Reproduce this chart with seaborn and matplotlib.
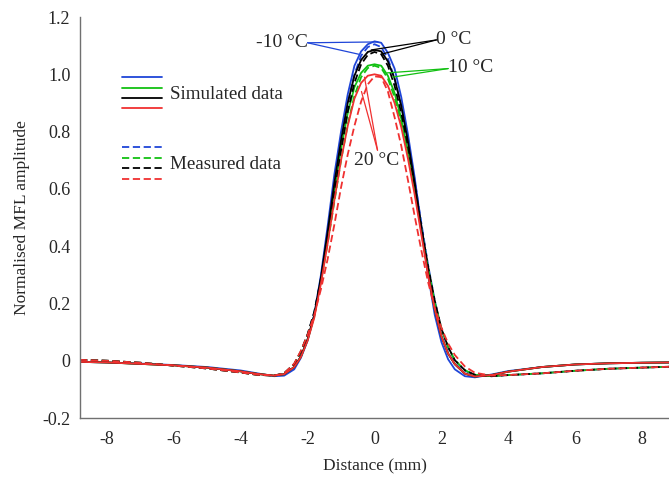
import matplotlib
matplotlib.use("Agg")
import matplotlib.pyplot as plt
import pandas as pd
import seaborn as sns
from matplotlib.legend_handler import HandlerBase
from matplotlib.lines import Line2D

# data
distance = [-8.8, -8, -7, -6, -5, -4, -3.5, -3, -2.7, -2.4, -2.2, -2, -1.8, -1.6, -1.4,
            -1.2, -1, -0.8, -0.6, -0.4, -0.2, 0, 0.2, 0.4, 0.6, 0.8, 1, 1.2, 1.4, 1.6,
            1.8, 2, 2.2, 2.4, 2.7, 3, 3.5, 4, 5, 6, 7, 8, 8.8]

sim_m10 = [-0.004, -0.006, -0.010, -0.015, -0.022, -0.034, -0.044, -0.054, -0.052, -0.030, 0.010,
           0.070, 0.160, 0.300, 0.470, 0.650, 0.800, 0.930, 1.030, 1.080, 1.105, 1.115, 1.110,
           1.075, 1.020, 0.920, 0.790, 0.640, 0.470, 0.300, 0.160, 0.065, 0.005, -0.030, -0.054,
           -0.058, -0.048, -0.036, -0.022, -0.013, -0.009, -0.007, -0.006]
sim_0 = [-0.004, -0.006, -0.011, -0.016, -0.024, -0.037, -0.046, -0.052, -0.047, -0.022, 0.015,
         0.075, 0.160, 0.290, 0.450, 0.620, 0.770, 0.900, 0.995, 1.050, 1.078, 1.085, 1.080,
         1.045, 0.985, 0.890, 0.765, 0.620, 0.460, 0.310, 0.180, 0.085, 0.025, -0.012, -0.045,
         -0.055, -0.050, -0.038, -0.022, -0.013, -0.009, -0.007, -0.006]
sim_10 = [-0.004, -0.006, -0.011, -0.016, -0.024, -0.037, -0.046, -0.052, -0.047, -0.022, 0.014,
          0.072, 0.155, 0.280, 0.430, 0.590, 0.740, 0.865, 0.955, 1.005, 1.030, 1.035, 1.030,
          0.995, 0.935, 0.845, 0.730, 0.595, 0.450, 0.305, 0.180, 0.085, 0.025, -0.012, -0.045,
          -0.055, -0.050, -0.038, -0.022, -0.013, -0.009, -0.007, -0.006]
sim_20 = [-0.004, -0.006, -0.011, -0.016, -0.024, -0.037, -0.046, -0.052, -0.047, -0.022, 0.013,
          0.070, 0.150, 0.270, 0.410, 0.560, 0.700, 0.820, 0.915, 0.970, 0.995, 1.000, 0.995,
          0.960, 0.900, 0.815, 0.705, 0.580, 0.440, 0.300, 0.180, 0.085, 0.025, -0.012, -0.045,
          -0.055, -0.050, -0.038, -0.022, -0.013, -0.009, -0.007, -0.006]

meas_m10 = [0.003, 0.000, -0.007, -0.017, -0.027, -0.041, -0.049, -0.052, -0.044, -0.012, 0.030,
            0.090, 0.170, 0.290, 0.440, 0.600, 0.760, 0.900, 1.000, 1.065, 1.095, 1.105, 1.095,
            1.055, 0.985, 0.890, 0.770, 0.630, 0.480, 0.335, 0.210, 0.110, 0.045, 0.000, -0.035,
            -0.050, -0.054, -0.050, -0.044, -0.035, -0.028, -0.024, -0.021]
meas_0 = [0.003, 0.000, -0.007, -0.017, -0.027, -0.041, -0.049, -0.052, -0.044, -0.012, 0.032,
          0.092, 0.170, 0.285, 0.430, 0.585, 0.735, 0.870, 0.970, 1.035, 1.068, 1.078, 1.070,
          1.030, 0.960, 0.865, 0.750, 0.615, 0.470, 0.330, 0.210, 0.112, 0.048, 0.002, -0.033,
          -0.049, -0.054, -0.050, -0.044, -0.035, -0.028, -0.024, -0.021]
meas_10 = [0.003, 0.000, -0.007, -0.017, -0.027, -0.041, -0.049, -0.052, -0.044, -0.012, 0.032,
           0.090, 0.165, 0.275, 0.410, 0.555, 0.700, 0.825, 0.925, 0.990, 1.022, 1.030, 1.022,
           0.985, 0.920, 0.830, 0.720, 0.595, 0.460, 0.325, 0.205, 0.112, 0.048, 0.002, -0.033,
           -0.049, -0.054, -0.050, -0.044, -0.035, -0.028, -0.024, -0.021]
meas_20 = [0.003, 0.000, -0.007, -0.017, -0.027, -0.041, -0.049, -0.052, -0.044, -0.010, 0.035,
           0.090, 0.160, 0.250, 0.355, 0.475, 0.605, 0.720, 0.820, 0.905, 0.965, 0.993, 0.990,
           0.940, 0.850, 0.750, 0.630, 0.505, 0.385, 0.275, 0.185, 0.115, 0.060, 0.020, -0.020,
           -0.042, -0.052, -0.050, -0.044, -0.035, -0.028, -0.024, -0.021]

temps = ["-10 °C", "10 °C", "0 °C", "20 °C"]  # legend order: blue, green, black, red
colors = ["#1f45d8", "#12c012", "black", "#f03030"]
x_ticks = [-8, -6, -4, -2, 0, 2, 4, 6, 8]
x_ticklabels = ["-8", "-6", "-4", "-2", "0", "2", "4", "6", "8"]
y_ticks = [-0.2, 0, 0.2, 0.4, 0.6, 0.8, 1.0, 1.2]
y_ticklabels = ["-0.2", "0", "0.2", "0.4", "0.6", "0.8", "1.0", "1.2"]

sim = {"-10 °C": sim_m10, "0 °C": sim_0, "10 °C": sim_10, "20 °C": sim_20}
meas = {"-10 °C": meas_m10, "0 °C": meas_0, "10 °C": meas_10, "20 °C": meas_20}

rows = []
for t in temps:
    for xv, yv in zip(distance, meas[t]):
        rows.append({"Distance": xv, "Amp": yv, "Temp": t, "Kind": "Measured"})
    for xv, yv in zip(distance, sim[t]):
        rows.append({"Distance": xv, "Amp": yv, "Temp": t, "Kind": "Simulated"})
df = pd.DataFrame(rows)

sns.set_theme(style="white")
plt.rcParams["font.family"] = ["Liberation Serif", "DejaVu Serif"]
plt.rcParams["axes.unicode_minus"] = False


class StackedLines(HandlerBase):
    # draws a tuple of lines stacked one above the other in one legend row
    def create_artists(self, legend, orig_handle, xdescent, ydescent, width, height, fontsize, trans):
        n = len(orig_handle)
        out = []
        for i, h in enumerate(orig_handle):
            y = height - ydescent - i * height / (n - 1)
            ln = Line2D([-xdescent, width - xdescent], [y, y])
            ln.update_from(h)
            ln.set_transform(trans)
            out.append(ln)
        return out


fig = plt.figure(figsize=(6.69, 4.79), dpi=100)
ax = fig.add_axes([0.1196, 0.1273, 0.8804, 0.8372])

palette = dict(zip(temps, colors))
sns.lineplot(data=df, x="Distance", y="Amp", hue="Temp", style="Kind", palette=palette,
             dashes={"Simulated": "", "Measured": (4, 2)}, estimator=None, sort=False,
             linewidth=1.3, legend=False, ax=ax)

ax.set_xlim(-8.8, 8.8)
ax.set_ylim(-0.2, 1.2)
ax.set_xticks(x_ticks)
ax.set_xticklabels(x_ticklabels)
ax.set_yticks(y_ticks)
ax.set_yticklabels(y_ticklabels)
ax.tick_params(direction="in", length=4, width=0.8, color="#707070", labelsize=13)
ax.tick_params(axis="x", pad=9)
ax.tick_params(axis="y", pad=7)
for s in ["top", "right"]:
    ax.spines[s].set_visible(False)
for s in ["left", "bottom"]:
    ax.spines[s].set_color("#707070")
    ax.spines[s].set_linewidth(1.0)
ax.set_xlabel("Distance (mm)", fontsize=12.5, labelpad=8)
ax.set_ylabel("Normalised MFL amplitude", fontsize=12.5, labelpad=9)

# temperature call-outs
line_kw = dict(arrowstyle="-", shrinkA=0, shrinkB=0, lw=0.9)
ax.text(-2.0, 1.11, "-10 °C", ha="right", va="center", fontsize=14)
for pt in [(0.1, 1.113), (-0.47, 1.07)]:
    ax.annotate("", xy=pt, xytext=(-2.0, 1.11), arrowprops=dict(color=colors[0], **line_kw))
ax.text(1.85, 1.123, "0 °C", ha="left", va="center", fontsize=14)
for pt in [(-0.1, 1.085), (0.2, 1.07)]:
    ax.annotate("", xy=pt, xytext=(1.85, 1.12), arrowprops=dict(color=colors[2], **line_kw))
ax.text(2.2, 1.023, "10 °C", ha="left", va="center", fontsize=14)
for pt in [(0.54, 0.99), (0.38, 1.005)]:
    ax.annotate("", xy=pt, xytext=(2.2, 1.02), arrowprops=dict(color=colors[1], **line_kw))
ax.text(0.07, 0.70, "20 °C", ha="center", va="center", fontsize=14)
for pt in [(-0.3, 0.99), (-0.39, 0.94)]:
    ax.annotate("", xy=pt, xytext=(0.09, 0.735), arrowprops=dict(color=colors[3], **line_kw))

sim_handles = tuple(Line2D([], [], color=c, lw=1.3) for c in colors)
meas_handles = tuple(Line2D([], [], color=c, lw=1.3, linestyle=(0, (4, 2))) for c in colors)
ax.legend([sim_handles, meas_handles], ["Simulated data", "Measured data"],
          handler_map={tuple: StackedLines()}, loc="upper left",
          bbox_to_anchor=(0.0713, 0.850), frameon=False, borderpad=0, borderaxespad=0,
          handlelength=2.1, handleheight=2.15, handletextpad=0.42, labelspacing=2.05,
          fontsize=13.7)

fig.savefig("out.png", dpi=100)
